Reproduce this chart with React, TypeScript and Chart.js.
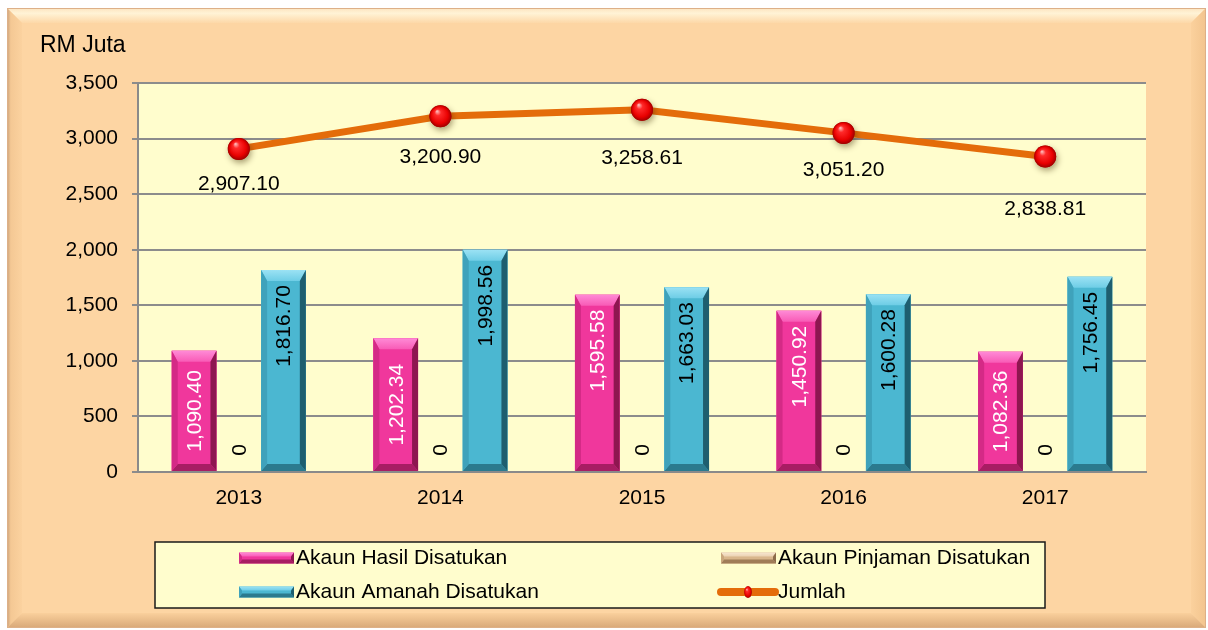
import React, { useEffect, useRef } from 'react';
import { Chart, registerables } from 'chart.js';

Chart.register(...registerables);

// ---------- data ----------
const categories = ['2013', '2014', '2015', '2016', '2017'];
const hasilValues = [1090.4, 1202.34, 1595.58, 1450.92, 1082.36];
const pinjamanValues = [0, 0, 0, 0, 0];
const amanahValues = [1816.7, 1998.56, 1663.03, 1600.28, 1756.45];
const jumlahValues = [2907.1, 3200.9, 3258.61, 3051.2, 2838.81];
const seriesNames = [
  'Akaun Hasil Disatukan',
  'Akaun Pinjaman Disatukan',
  'Akaun Amanah Disatukan',
  'Jumlah',
];
const yAxisTitle = 'RM Juta';
const yMin = 0;
const yMax = 3500;
const yStep = 500;

// ---------- style ----------
const FONT = '"Liberation Sans", Arial, Helvetica, sans-serif';
const FS = 21;
const jumlahLabelDy = [35, 41, 48, 37, 53];

type Bevel = { face: string; top: string; topHi: string; left: string; right: string; bottom: string };
const pinkBevel: Bevel = { face: '#F0379C', top: '#F85BB6', topHi: '#FF8AD6', left: '#D42A86', right: '#8E1650', bottom: '#A81D63' };
const tealBevel: Bevel = { face: '#4BB7D1', top: '#6ECDE6', topHi: '#9BE2F4', left: '#3FA2BB', right: '#1E5E6F', bottom: '#2B7A8E' };
const beigeBevel: Bevel = { face: '#D9B68C', top: '#EBD2B2', topHi: '#F7E6D0', left: '#C9A67C', right: '#8C6B4A', bottom: '#A07C57' };
const bevels = [pinkBevel, beigeBevel, tealBevel];

const fmt = (v: number) =>
  v === 0 ? '0' : v.toLocaleString('en-US', { minimumFractionDigits: 2, maximumFractionDigits: 2 });

function poly(ctx: CanvasRenderingContext2D, pts: number[][], fill: string | CanvasGradient) {
  ctx.beginPath();
  ctx.moveTo(pts[0][0], pts[0][1]);
  for (let i = 1; i < pts.length; i++) ctx.lineTo(pts[i][0], pts[i][1]);
  ctx.closePath();
  ctx.fillStyle = fill;
  ctx.fill();
}

function drawBevelRect(
  ctx: CanvasRenderingContext2D,
  x0: number, y0: number, x1: number, y1: number,
  c: Bevel, bt: number, bs: number, bb: number
) {
  const w = x1 - x0;
  const h = y1 - y0;
  if (h <= 0 || w <= 0) return;
  bt = Math.min(bt, h / 2);
  bb = Math.min(bb, h / 2);
  bs = Math.min(bs, w / 2);
  ctx.save();
  poly(ctx, [[x0, y0], [x1, y0], [x1, y1], [x0, y1]], c.face);
  const tg = ctx.createLinearGradient(0, y0, 0, y0 + bt);
  tg.addColorStop(0, c.topHi);
  tg.addColorStop(1, c.top);
  poly(ctx, [[x0, y0], [x1, y0], [x1 - bs, y0 + bt], [x0 + bs, y0 + bt]], tg);
  poly(ctx, [[x0, y1], [x1, y1], [x1 - bs, y1 - bb], [x0 + bs, y1 - bb]], c.bottom);
  poly(ctx, [[x0, y0], [x0 + bs, y0 + bt], [x0 + bs, y1 - bb], [x0, y1]], c.left);
  poly(ctx, [[x1, y0], [x1 - bs, y0 + bt], [x1 - bs, y1 - bb], [x1, y1]], c.right);
  ctx.restore();
}

function drawSphere(ctx: CanvasRenderingContext2D, x: number, y: number, r: number, shadow = true) {
  ctx.save();
  if (shadow) {
    ctx.shadowColor = 'rgba(60,40,0,0.45)';
    ctx.shadowBlur = 6;
    ctx.shadowOffsetX = 1.5;
    ctx.shadowOffsetY = 3;
  }
  const g = ctx.createRadialGradient(x - r * 0.3, y - r * 0.45, r * 0.05, x, y, r);
  g.addColorStop(0, '#FFB0B0');
  g.addColorStop(0.25, '#FF2A2A');
  g.addColorStop(0.75, '#E80000');
  g.addColorStop(1, '#A00000');
  ctx.beginPath();
  ctx.arc(x, y, r, 0, Math.PI * 2);
  ctx.fillStyle = g;
  ctx.fill();
  ctx.restore();
}

const decorPlugin = {
  id: 'decor',
  beforeDraw(chart: any) {
    const ctx: CanvasRenderingContext2D = chart.ctx;
    const { left, right, top, bottom } = chart.chartArea;
    ctx.save();
    // outer frame
    const fx0 = 7, fy0 = 8, fx1 = 1206, fy1 = 628, b = 15;
    poly(ctx, [[fx0, fy0], [fx1, fy0], [fx1, fy1], [fx0, fy1]], '#FDD5A3');
    const tg = ctx.createLinearGradient(0, fy0, 0, fy0 + b);
    tg.addColorStop(0, '#FCE3BE');
    tg.addColorStop(0.35, '#FFF3D6');
    tg.addColorStop(1, '#FDD8A8');
    poly(ctx, [[fx0, fy0], [fx1, fy0], [fx1 - b, fy0 + b], [fx0 + b, fy0 + b]], tg);
    const lg = ctx.createLinearGradient(fx0, 0, fx0 + b, 0);
    lg.addColorStop(0, '#C9A07A');
    lg.addColorStop(0.25, '#F4C894');
    lg.addColorStop(1, '#FBD29F');
    poly(ctx, [[fx0, fy0], [fx0 + b, fy0 + b], [fx0 + b, fy1 - b], [fx0, fy1]], lg);
    const rg = ctx.createLinearGradient(fx1 - b, 0, fx1, 0);
    rg.addColorStop(0, '#FBD19D');
    rg.addColorStop(1, '#F2C48E');
    poly(ctx, [[fx1, fy0], [fx1 - b, fy0 + b], [fx1 - b, fy1 - b], [fx1, fy1]], rg);
    const bg = ctx.createLinearGradient(0, fy1 - b, 0, fy1);
    bg.addColorStop(0, '#FAD09C');
    bg.addColorStop(1, '#D8A878');
    poly(ctx, [[fx0, fy1], [fx1, fy1], [fx1 - b, fy1 - b], [fx0 + b, fy1 - b]], bg);
    ctx.strokeStyle = '#DDB088';
    ctx.lineWidth = 1;
    ctx.strokeRect(fx0 + 0.5, fy0 + 0.5, fx1 - fx0 - 1, fy1 - fy0 - 1);

    // plot area
    ctx.fillStyle = '#FFFDCD';
    ctx.fillRect(left, top, right - left, bottom - top);

    // axis unit title
    ctx.fillStyle = '#000';
    ctx.font = `23px ${FONT}`;
    ctx.textAlign = 'left';
    ctx.textBaseline = 'middle';
    ctx.fillText(yAxisTitle, 40, 46);

    // legend
    const lx0 = 155, ly0 = 542, lx1 = 1045, ly1 = 608;
    ctx.fillStyle = '#FFFDCD';
    ctx.fillRect(lx0, ly0, lx1 - lx0, ly1 - ly0);
    ctx.strokeStyle = '#1A1A1A';
    ctx.lineWidth = 1.5;
    ctx.strokeRect(lx0, ly0, lx1 - lx0, ly1 - ly0);
    const rows = [558, 592];
    const items = [
      { col: 0, row: 0, name: seriesNames[0], kind: 0 },
      { col: 1, row: 0, name: seriesNames[1], kind: 1 },
      { col: 0, row: 1, name: seriesNames[2], kind: 2 },
      { col: 1, row: 1, name: seriesNames[3], kind: 3 },
    ];
    const sx = [239, 721];
    items.forEach((it) => {
      const y = rows[it.row];
      const x = sx[it.col];
      if (it.kind < 3) {
        drawBevelRect(ctx, x, y - 5.5, x + 55, y + 5.5, bevels[it.kind], 4, 3, 4);
      } else {
        ctx.save();
        ctx.strokeStyle = '#E46C0A';
        ctx.lineWidth = 8;
        ctx.lineCap = 'round';
        ctx.beginPath();
        ctx.moveTo(x, y);
        ctx.lineTo(x + 54, y);
        ctx.stroke();
        ctx.restore();
        ctx.save();
        ctx.translate(x + 27, y);
        ctx.scale(0.65, 1);
        drawSphere(ctx, 0, 0, 6, false);
        ctx.restore();
      }
      ctx.fillStyle = '#000';
      ctx.font = `${FS}px ${FONT}`;
      ctx.textAlign = 'left';
      ctx.textBaseline = 'middle';
      ctx.fillText(it.name, x + 57, y);
    });
    ctx.restore();
  },
  afterDatasetDraw(chart: any, args: any) {
    const idx = args.index;
    if (idx > 2) return;
    const ctx: CanvasRenderingContext2D = chart.ctx;
    const meta = chart.getDatasetMeta(idx);
    meta.data.forEach((el: any) => {
      const p = el.getProps(['x', 'y', 'base', 'width'], true);
      const x0 = p.x - p.width / 2;
      const x1 = p.x + p.width / 2;
      const y0 = Math.min(p.y, p.base);
      const y1 = Math.max(p.y, p.base);
      drawBevelRect(ctx, x0, y0, x1, y1, bevels[idx], 11, 6, 7);
    });
  },
  afterDatasetsDraw(chart: any) {
    const ctx: CanvasRenderingContext2D = chart.ctx;
    ctx.save();
    // spheres
    const lineMeta = chart.getDatasetMeta(3);
    lineMeta.data.forEach((el: any) => {
      const p = el.getProps(['x', 'y'], true);
      drawSphere(ctx, p.x, p.y, 11);
    });
    // line labels
    ctx.font = `${FS}px ${FONT}`;
    ctx.fillStyle = '#000';
    ctx.textAlign = 'center';
    ctx.textBaseline = 'middle';
    lineMeta.data.forEach((el: any, i: number) => {
      const p = el.getProps(['x', 'y'], true);
      ctx.fillText(fmt(jumlahValues[i]), p.x, p.y + jumlahLabelDy[i]);
    });
    // bar labels
    const barData = [hasilValues, pinjamanValues, amanahValues];
    const colors = ['#FFFFFF', '#000000', '#000000'];
    for (let d = 0; d < 3; d++) {
      const meta = chart.getDatasetMeta(d);
      meta.data.forEach((el: any, i: number) => {
        const p = el.getProps(['x', 'y', 'base'], true);
        const v = barData[d][i];
        const text = fmt(v);
        const h = p.base - p.y;
        ctx.save();
        ctx.fillStyle = colors[d];
        ctx.font = `${FS}px ${FONT}`;
        ctx.textBaseline = 'middle';
        if (v === 0) {
          ctx.translate(p.x, p.base - 22);
          ctx.rotate(-Math.PI / 2);
          ctx.textAlign = 'center';
        } else if (d === 0 && h < 150) {
          ctx.translate(p.x, (p.y + p.base) / 2);
          ctx.rotate(-Math.PI / 2);
          ctx.textAlign = 'center';
        } else {
          ctx.translate(p.x, p.y + 15);
          ctx.rotate(-Math.PI / 2);
          ctx.textAlign = 'right';
        }
        ctx.fillText(text, 0, 1);
        ctx.restore();
      });
    }
    ctx.restore();
  },
};

export default function App() {
  const ref = useRef<HTMLCanvasElement | null>(null);
  useEffect(() => {
    if (!ref.current) return;
    Chart.defaults.font.family = FONT;
    const chart = new Chart(ref.current, {
      type: 'bar',
      data: {
        labels: categories,
        datasets: [
          { type: 'bar', label: seriesNames[0], data: hasilValues, backgroundColor: pinkBevel.face, order: 1, categoryPercentage: 0.665, barPercentage: 1.0 },
          { type: 'bar', label: seriesNames[1], data: pinjamanValues, backgroundColor: beigeBevel.face, order: 1, categoryPercentage: 0.665, barPercentage: 1.0 },
          { type: 'bar', label: seriesNames[2], data: amanahValues, backgroundColor: tealBevel.face, order: 1, categoryPercentage: 0.665, barPercentage: 1.0 },
          {
            type: 'line', label: seriesNames[3], data: jumlahValues, order: 0,
            borderColor: '#E46C0A', borderWidth: 7, pointRadius: 11, pointBackgroundColor: '#E80000',
            pointBorderWidth: 0, tension: 0, borderCapStyle: 'round',
          } as any,
        ],
      },
      options: {
        animation: false,
        responsive: true,
        maintainAspectRatio: false,
        layout: { padding: { top: 83, right: 62, left: 0, bottom: 0 } },
        plugins: { legend: { display: false }, tooltip: { enabled: false } },
        scales: {
          x: {
            grid: { display: false },
            border: { display: true, color: '#8A8A8A', width: 2 },
            ticks: { color: '#000', font: { size: FS, family: FONT }, padding: 6 },
            afterFit: (s: any) => { s.height = 158; },
          },
          y: {
            min: yMin,
            max: yMax,
            ticks: {
              stepSize: yStep,
              color: '#000',
              font: { size: FS, family: FONT },
              padding: 14,
              callback: (v: any) => Number(v).toLocaleString('en-US'),
            },
            grid: { color: '#8C8C8C', lineWidth: 2, tickLength: 6, drawTicks: true },
            border: { display: true, color: '#8A8A8A', width: 2 },
            afterFit: (s: any) => { s.width = 138; },
          },
        },
      },
      plugins: [decorPlugin],
    } as any);
    return () => chart.destroy();
  }, []);
  return (
    <div style={{ position: 'fixed', left: 0, top: 0, width: 1208, height: 630, background: '#fff' }}>
      <canvas ref={ref} />
    </div>
  );
}
